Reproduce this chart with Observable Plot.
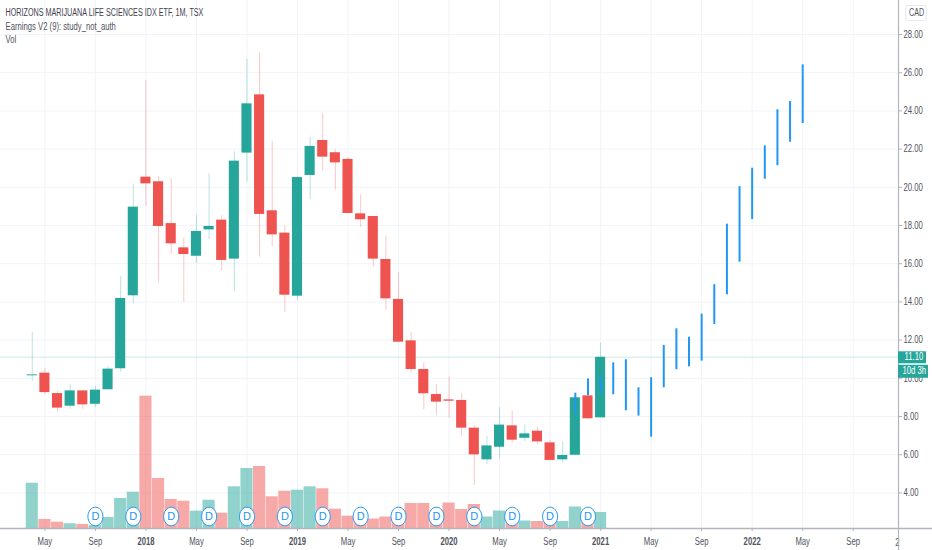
<!DOCTYPE html>
<html>
<head>
<meta charset="utf-8">
<script src="https://cdn.jsdelivr.net/npm/d3@7"></script>
<script src="https://cdn.jsdelivr.net/npm/@observablehq/plot@0.6"></script>
<style>
html,body{margin:0;padding:0;background:#fff;overflow:hidden}
#chart{position:relative;width:932px;height:550px}
#cad{position:absolute;left:905px;top:5px;width:20px;height:14px;border:1px solid #e6e9f0;border-radius:3px;
 font:10px "Liberation Sans",sans-serif;color:#50535e;text-align:center;line-height:14px;background:#fff}
#cad span{display:inline-block;transform:scaleX(.72)}
</style>
</head>
<body>
<div id="chart"><div id="cad"><span></span></div></div>
<script>
// Month index 0 = Jan 2017; first candle is Apr 2017 (index 3)
const firstMonth = 3;
const opens  = [10.13,10.27,9.20,8.54,9.34,8.64,9.40,10.50,14.32,20.53,20.29,18.10,16.83,16.39,17.77,18.28,16.24,21.79,24.84,18.77,17.60,14.30,20.62,22.45,21.81,21.46,18.61,18.47,16.22,14.13,11.96,10.46,9.15,8.87,8.84,7.39,5.73,6.39,7.51,6.86,7.23,6.62,5.73,5.97,9.08,7.93];
const highs  = [12.41,10.50,9.32,9.66,9.34,9.57,10.62,15.33,20.13,25.58,20.57,20.44,17.33,18.54,20.69,18.52,21.86,26.69,27.04,22.41,17.95,20.51,22.61,23.88,21.96,21.55,19.61,18.47,17.46,15.52,12.38,10.81,9.66,10.06,9.19,7.53,6.95,8.46,8.28,7.56,7.44,6.76,6.66,9.05,9.08,11.84];
const lows   = [9.83,9.13,8.21,8.37,8.37,8.47,9.40,10.32,13.90,19.01,15.03,16.48,13.98,16.01,17.27,15.61,14.54,20.27,16.34,16.90,13.45,14.07,19.35,20.83,19.85,18.60,17.91,15.82,13.58,11.85,10.28,8.35,8.05,7.91,6.95,4.39,5.49,5.76,6.60,6.69,6.53,5.66,5.56,5.97,7.85,7.93];
const closes = [10.18,9.25,8.44,9.34,8.61,9.38,10.48,14.18,18.96,20.18,17.95,17.04,16.48,17.69,17.95,16.17,21.37,24.37,18.58,17.51,14.35,20.51,22.14,21.58,21.28,18.63,18.30,16.24,14.16,11.89,10.46,9.19,8.75,8.80,7.39,5.99,6.46,7.55,6.76,7.09,6.67,5.70,5.96,8.98,7.88,11.10];
const volumes = [453,90,63,47,40,30,110,300,363,1323,500,290,273,173,283,153,417,600,620,317,373,383,417,397,193,123,80,95,115,100,250,250,140,255,190,240,115,175,80,75,70,60,70,215,80,160];

// Projected blue ranges, Nov 2020 onward
const firstProjection = 46;
const projectionHigh = [9.22,9.97,10.10,10.81,10.97,9.50,10.03,11.72,12.59,12.15,13.36,14.90,18.07,20.03,21.00,22.17,24.06,24.49,26.41];
const projectionLow  = [8.14,9.10,9.22,9.14,8.30,8.02,6.92,9.50,10.45,10.60,10.90,12.82,14.37,16.08,18.31,20.42,21.13,22.36,23.34];

// Dividend markers (month index)
const dividendMonths = [8,11,14,17,20,23,26,29,32,35,38,41,44,47];

const monthTicks = [4,8,16,20,28,32,40,44,52,56,64,68];
const monthTickLabels = ["May","Sep","May","Sep","May","Sep","May","Sep","May","Sep","May","Sep"];
const yearTicks = [12,24,36,48,60];
const yearTickLabels = ["2018","2019","2020","2021","2022"];
const gridMonths = [4,8,12,16,20,24,28,32,36,40,44,48,52,56,60,64,68];
const priceTicks = [4,6,8,10,12,14,16,18,20,22,24,26,28];

const lastPrice = 11.10;
const title = "HORIZONS MARIJUANA LIFE SCIENCES IDX ETF, 1M, TSX";
const study = "Earnings V2 (9): study_not_auth";
const volName = "Vol";
const currency = "CAD";
const countdown = "10d 3h";
const dividendLabel = "D";

const candles = opens.map((o,k)=>({
  m:firstMonth+k, open:o, high:highs[k], low:lows[k], close:closes[k], vol:volumes[k],
  dir: closes[k]>=o ? "up":"down"
}));
const projection = projectionHigh.map((h,k)=>({m:firstProjection+k, high:h, low:projectionLow[k]}));

const xMin = 0.485, xMax = 71.586, yMin = 2.136, yMax = 29.78;
const volPerPrice = 191; // volume pane: volume units for one price unit of height
const halfBody = 0.4, halfVol = 0.48;
const font = '"Liberation Sans",sans-serif';
const textColor = "#50535e", gridColor = "#f0f3fa", axisColor = "#b2b5be", blue = "#2196f3", teal="#26a69a", red="#ef5350";
const axisFont = {fontFamily:font, fontSize:10};

// The picture is horizontally squeezed, so the badge is an upright ellipse
const ellipse = {draw(ctx, size){
  const ry = Math.sqrt(size/Math.PI), rx = ry*0.81, c = 0.5523;
  ctx.moveTo(rx,0);
  ctx.bezierCurveTo(rx,c*ry,c*rx,ry,0,ry);
  ctx.bezierCurveTo(-c*rx,ry,-rx,c*ry,-rx,0);
  ctx.bezierCurveTo(-rx,-c*ry,-c*rx,-ry,0,-ry);
  ctx.bezierCurveTo(c*rx,-ry,rx,-c*ry,rx,0);
  ctx.closePath();
}};

const chart = Plot.plot({
  width:932, height:550,
  marginLeft:0, marginRight:34, marginTop:0, marginBottom:22,
  style:{background:"#fff", fontFamily:font},
  x:{type:"linear", domain:[xMin,xMax]},
  y:{type:"linear", domain:[yMin,yMax]},
  color:{domain:["up","down"], range:[teal,red]},
  marks:[
    Plot.ruleX(gridMonths,{stroke:gridColor}),
    Plot.ruleY(priceTicks,{stroke:gridColor}),
    Plot.ruleY([lastPrice],{stroke:teal, strokeOpacity:0.15, strokeWidth:1.5}),
    // volume
    Plot.rectY(candles,{x1:d=>d.m-halfVol, x2:d=>d.m+halfVol, y1:yMin, y2:d=>yMin+d.vol/volPerPrice, fill:"dir", fillOpacity:0.5}),
    // wicks and bodies
    Plot.ruleX(candles,{x:"m", y1:"low", y2:"high", stroke:"dir", strokeOpacity:0.32}),
    Plot.rectY(candles,{x1:d=>d.m-halfBody, x2:d=>d.m+halfBody, y1:"open", y2:"close", fill:"dir"}),
    // projection
    Plot.ruleX(projection,{x:"m", y1:"low", y2:"high", stroke:blue, strokeWidth:2}),
    // dividends
    Plot.dot(dividendMonths,{x:d=>d, frameAnchor:"bottom", dy:-12, r:9.3, symbol:ellipse, fill:"#fff", stroke:blue, strokeWidth:1}),
    Plot.text(dividendMonths,{x:d=>d, frameAnchor:"bottom", lineAnchor:"middle", dy:-12, text:()=>dividendLabel, fill:blue, fontSize:11, fontFamily:font}),
    // axes
    Plot.axisX({ticks:monthTicks, tickFormat:d=>monthTickLabels[monthTicks.indexOf(d)], anchor:"bottom", label:null, tickSize:3, tickPadding:6, stroke:axisColor, fill:textColor, ...axisFont}),
    Plot.axisX({ticks:yearTicks, tickFormat:d=>yearTickLabels[yearTicks.indexOf(d)], anchor:"bottom", label:null, tickSize:3, tickPadding:6, stroke:axisColor, fill:textColor, fontWeight:700, ...axisFont}),
    Plot.text(["2"],{frameAnchor:"bottom-right", dx:1, dy:17, fill:textColor, ...axisFont}),
    Plot.axisY({ticks:priceTicks, tickFormat:d=>d.toFixed(2), anchor:"right", label:null, tickSize:3, tickPadding:2, stroke:axisColor, fill:textColor, ...axisFont}),
    Plot.ruleX([xMax],{stroke:axisColor, strokeWidth:1.2, insetBottom:-22}),
    Plot.ruleY([yMin],{stroke:axisColor, strokeWidth:1.5, insetRight:-34}),
    Plot.ruleY([lastPrice],{insetLeft:898, insetRight:-28, stroke:teal, strokeWidth:12}),
    Plot.ruleY([lastPrice],{insetLeft:898, insetRight:-30, dy:14, stroke:teal, strokeWidth:13}),
    Plot.text([lastPrice],{y:d=>d, frameAnchor:"right", dx:6, textAnchor:"start", text:d=>d.toFixed(2), fill:"#fff", ...axisFont}),
    Plot.text([lastPrice],{y:d=>d, frameAnchor:"right", dy:14, dx:4, textAnchor:"start", text:()=>countdown, fill:"#fff", ...axisFont}),
    // legend text
    Plot.text([title],{frameAnchor:"top-left", dx:5, dy:8, textAnchor:"start", fill:"#3f424d", fontFamily:font, fontSize:10}),
    Plot.text([study],{frameAnchor:"top-left", dx:5, dy:22, textAnchor:"start", fill:textColor, fontFamily:font, fontSize:10}),
    Plot.text([volName],{frameAnchor:"top-left", dx:5, dy:35, textAnchor:"start", fill:textColor, fontFamily:font, fontSize:10})
  ]
});
const host = document.getElementById("chart");
host.insertBefore(chart, host.firstChild);
chart.style.display="block";
document.querySelector("#cad span").textContent = currency;
// Reference type is condensed: squeeze glyphs, keeping the real text
for (const t of chart.querySelectorAll("text")) {
  if (t.textContent === dividendLabel) continue;
  const k = t.textContent === title ? 0.72 : 0.77;
  t.setAttribute("textLength", (t.getComputedTextLength()*k).toFixed(1));
  t.setAttribute("lengthAdjust","spacingAndGlyphs");
}
</script>
</body>
</html>
